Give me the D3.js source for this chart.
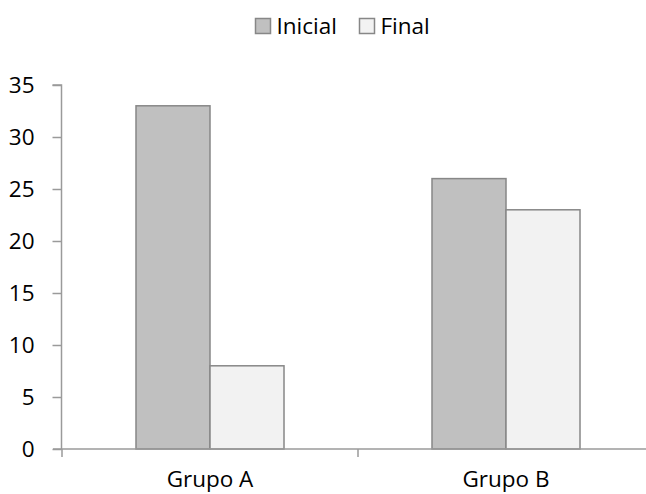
<!DOCTYPE html>
<html><head><meta charset="utf-8">
<script src="https://cdn.jsdelivr.net/npm/d3@7"></script>
<style>body{margin:0;background:#fff}svg{display:block}</style>
</head><body>
<script>
const categories = ["Grupo A", "Grupo B"];
const seriesNames = ["Inicial", "Final"];
const inicial = [33, 26];
const final = [8, 23];
const yTicks = [0, 5, 10, 15, 20, 25, 30, 35];
const colors = ["#c0c0c0", "#f2f2f2"];

const W = 646, H = 494;
const svg = d3.select("body").append("svg").attr("width", W).attr("height", H);
const font = "'Open Sans', sans-serif";
const fs = 22.5;

const x0 = d3.scaleBand().domain(categories).range([62, 654]).paddingInner(0).paddingOuter(0);
const x1 = d3.scaleBand().domain(seriesNames).range([0, x0.bandwidth()]).paddingInner(0).paddingOuter(1);
const y = d3.scaleLinear().domain([0, 35]).range([449, 85]);

const data = categories.map((c, i) => ({cat: c, vals: [inicial[i], final[i]]}));

// bars
const g = svg.append("g");
data.forEach(d => {
  d.vals.forEach((v, j) => {
    g.append("rect")
      .attr("x", x0(d.cat) + x1(seriesNames[j]))
      .attr("y", y(v))
      .attr("width", x1.bandwidth())
      .attr("height", y(0) - y(v))
      .attr("fill", colors[j])
      .attr("stroke", "#878787")
      .attr("stroke-width", 1.5);
  });
});

// y axis
const yAxis = d3.axisLeft(y).tickValues(yTicks).tickSize(9).tickPadding(18);
const ya = svg.append("g").attr("transform", "translate(61.5,0)").call(yAxis);
ya.selectAll("path,line").attr("stroke", "#9a9a9a").attr("stroke-width", 1.5);
ya.select(".domain").attr("d", `M-9,${y(35)}H0V${y(0)}`);
ya.selectAll("text").attr("font-family", font).attr("font-size", fs).attr("fill", "#000");

// x axis
const xa = svg.append("g").attr("transform", `translate(0,${y(0)})`);
xa.append("line").attr("x1", 53).attr("x2", 654).attr("y1", 0).attr("y2", 0)
  .attr("stroke", "#9a9a9a").attr("stroke-width", 1.5);
const tickPos = categories.map(c => x0(c)).concat([x0(categories[categories.length-1]) + x0.bandwidth()]);
xa.selectAll("line.tk").data(tickPos).enter().append("line").attr("class","tk")
  .attr("x1", d => d).attr("x2", d => d).attr("y1", 0).attr("y2", 8)
  .attr("stroke", "#9a9a9a").attr("stroke-width", 1.5);
xa.selectAll("text").data(categories).enter().append("text")
  .attr("x", d => x0(d) + x0.bandwidth()/2).attr("y", 38)
  .attr("text-anchor", "middle").attr("font-family", font).attr("font-size", fs)
  .text(d => d);

// legend
const legX = [255.5, 359.5];
const leg = svg.append("g");
seriesNames.forEach((s, j) => {
  leg.append("rect").attr("x", legX[j]).attr("y", 18.5).attr("width", 15).attr("height", 15)
    .attr("fill", colors[j]).attr("stroke", "#878787").attr("stroke-width", 1.5);
  leg.append("text").attr("x", legX[j] + 21).attr("y", 34)
    .attr("font-family", font).attr("font-size", fs).text(s);
});
</script>
</body></html>
